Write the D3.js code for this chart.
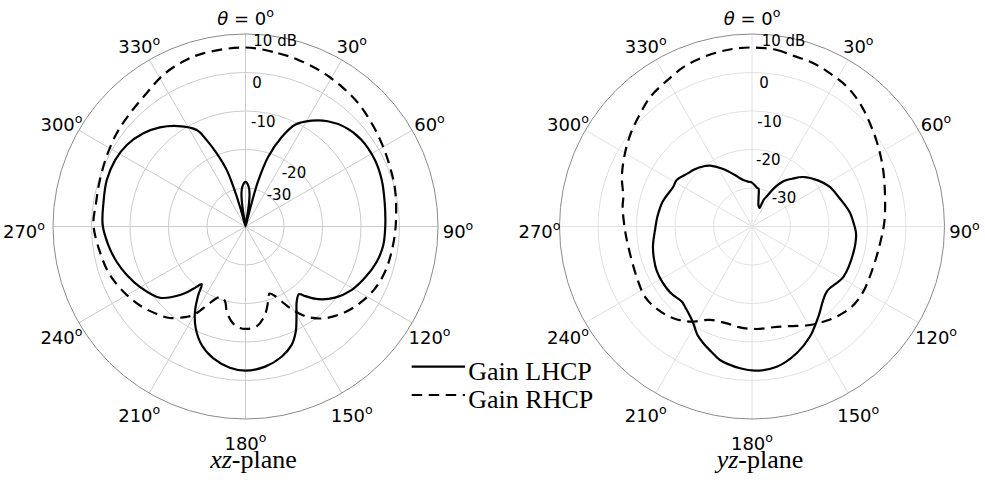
<!DOCTYPE html>
<html><head><meta charset="utf-8">
<script src="https://cdn.jsdelivr.net/npm/d3@7"></script>
<style>body{margin:0;background:#fff;} svg{display:block;}</style>
</head><body>
<svg id="chart" width="985" height="480"></svg>
<script>
// ---------------- data ----------------
const ringValues = [-30, -20, -10, 0];
const ringLabelValues = [-30, -20, -10, 0, 10];
const ringLabels = ["-30", "-20", "-10", "0", "10 dB"];
const thetaTicks = [0, 30, 60, 90, 120, 150, 180, 210, 240, 270, 300, 330];
const planeLabels = ["xz", "yz"];
const seriesNames = ["Gain LHCP", "Gain RHCP"];

// xz-plane, LHCP
const xzLhcpTheta = [0,4.5,7,9,10.5,14.5,15.5,18,22,26,32,38,45,53,63,71,80,90,98,105,113,121,128.5,135,139.4,141.7,145.7,150,154.5,158.7,164.5,172,180,186.3,193.7,200.3,206.1,210.7,214.6,217.2,219.9,223.7,230.2,240.3,247.8,254.7,262.3,270.6,279.3,288.5,297,304.5,312.4,319.2,326.2,333.2,335.8,338.5,341.6,343,344.5,349.5,351,353,355.5];
const xzLhcpGain  = [-28.4,-29.6,-31.4,-35,-40,-36,-28,-21,-15,-10.6,-7.6,-5.3,-3.5,-2.4,-2.2,-2.6,-3.3,-3.7,-3.9,-4.7,-6.2,-7.9,-10.3,-13.3,-16.2,-17.6,-16.4,-13.5,-9.7,-7.0,-4.9,-3.25,-2.55,-3.1,-4.75,-7.2,-10.6,-14.3,-18.4,-21.2,-18.9,-15.4,-11.1,-8.4,-6.7,-5.3,-4.05,-2.9,-2.6,-2.0,-2.0,-2.6,-4.1,-6.0,-8.6,-11.9,-15.4,-19.6,-24.5,-29.2,-35,-40,-35,-31.4,-29.6];

// xz-plane, RHCP
const xzRhcpTheta = [0,10.7,17.6,26.2,34.5,42.5,50.7,58.6,67.5,76.3,90,99.8,108,115.5,122.9,130.8,139,145,149.4,152.8,157,160.3,163,167.6,173.6,180,185,188.2,192.4,195.2,199.3,202,207.3,210.5,213.1,219.5,226,233,240,250.3,260.2,270.7,278.8,287.7,296.7,305.9,314.4,323.4,331.5,339.3,346.3];
const xzRhcpGain  = [6.5,5.8,5.4,4.8,4.1,3.4,2.35,1.45,0.6,0.0,-1.0,-1.5,-1.9,-2.7,-4.05,-5.9,-8.45,-11.2,-14.3,-17.1,-20.4,-21.5,-19.8,-16.5,-13.9,-13.4,-13.9,-15.0,-17.35,-19.8,-20.6,-19.9,-16.1,-13.3,-12.0,-9.2,-7.5,-5.8,-4.4,-2.6,-1.6,-0.5,-0.7,-0.3,0.4,1.3,2.0,3.1,4.8,5.8,6.3];

// yz-plane, LHCP
const yzLhcpTheta = [0,7,9.7,12.9,16.8,22,23.5,26.5,30,35,40,46,55,63,70,76,82,88,94,105,119,131,143.7,152.2,160.6,170,178.8,184.8,193.5,198,202.6,207,211.2,215,219.9,223.1,231,238,245,252,259,268,276,285.5,296.8,301.7,309.9,313.9,322.2,325.4,332.5,341.7,346,349.4,355];
const yzLhcpGain  = [-28.6,-29.8,-30.0,-32.4,-34.2,-34.8,-32.5,-31.0,-28.5,-25.6,-23.8,-21.5,-19.1,-17.3,-16.4,-15.4,-14.3,-13.6,-12.9,-12.8,-12.9,-14.25,-10.9,-7.7,-5.1,-3.0,-2.55,-3.05,-4.35,-5.8,-7.15,-8.6,-10.6,-11.8,-12.85,-13.3,-12.7,-12.6,-12.7,-13.2,-13.8,-14.8,-15.3,-15.9,-17.1,-17.0,-18.4,-18.8,-20.1,-20.8,-23.0,-25.9,-27.1,-27.7,-28.3];

// yz-plane, RHCP
const yzRhcpTheta = [0,8,14,20.6,27,34.1,41.2,48.8,57.7,66.7,77.4,88,97.5,108.3,120.4,128.8,136.8,143.2,149.5,159.1,168.1,177.4,186.8,194.6,204.2,213.1,220.6,228.3,236.7,246.5,260.7,268.4,278.7,283,291,300,308,315,322,330,337,344,352];
const yzRhcpGain  = [6.5,6.3,5.6,5.3,4.65,3.9,2.55,0.7,-1.2,-2.9,-4.6,-5.6,-6.45,-6.8,-6.5,-6.75,-7.9,-9.1,-10.3,-12.3,-13.25,-13.35,-13.6,-14.0,-13.4,-10.5,-8.6,-7.4,-6.75,-7.3,-7.45,-7.0,-6.0,-5.7,-3.8,-1.9,-0.2,1.2,2.8,3.9,5.1,5.8,6.3];

// ---------------- layout / style ----------------
const R = 192.5;
const panels = [
  { cx: 245.5, cy: 226.5, grid: "#cccccc", label: planeLabels[0], shift270: -9,
    lhcp: [xzLhcpTheta, xzLhcpGain], rhcp: [xzRhcpTheta, xzRhcpGain],
    ringOff: [[21.2,-26.5],[36.2,-48.2],[5.5,-99.2],[6.8,-138.2],[7.8,-180.5]] },
  { cx: 752, cy: 226.5, grid: "#e2e2e2", label: planeLabels[1], shift270: 0,
    lhcp: [yzLhcpTheta, yzLhcpGain], rhcp: [yzRhcpTheta, yzRhcpGain],
    ringOff: [[19.7,-23.8],[4,-61.5],[5.3,-99.8],[7.3,-138.2],[9.7,-180.5]] }
];
const sans = "'DejaVu Sans', sans-serif";
const serif = "'Liberation Serif', 'Times New Roman', serif";
const dash = "10.5,6.5";

const svg = d3.select("#chart");
const r = d3.scaleLinear().domain([-40, 10]).range([0, R]).clamp(true);
const rad = d => d * Math.PI / 180;

panels.forEach(p => {
  const g = svg.append("g").attr("transform", `translate(${p.cx},${p.cy})`);
  g.selectAll("circle.ring").data(ringValues).join("circle")
    .attr("r", d => r(d)).attr("fill", "none")
    .attr("stroke", p.grid).attr("stroke-width", 1);
  g.selectAll("line.spoke").data(thetaTicks).join("line")
    .attr("x1", 0).attr("y1", 0)
    .attr("x2", d => r(10) * Math.sin(rad(d)))
    .attr("y2", d => -r(10) * Math.cos(rad(d)))
    .attr("stroke", p.grid).attr("stroke-width", 1);
  g.append("circle").attr("r", r(10)).attr("fill", "none")
    .attr("stroke", "#8a8a8a").attr("stroke-width", 1);

  const line = d3.lineRadial()
    .angle(d => rad(d[0])).radius(d => r(d[1]))
    .curve(d3.curveCatmullRomClosed.alpha(0.5));
  const pts = s => s[0].map((t, i) => [t, s[1][i]]);
  g.append("path").attr("d", line(pts(p.rhcp)))
    .attr("fill", "none").attr("stroke", "#000").attr("stroke-width", 2.2)
    .attr("stroke-dasharray", dash);
  g.append("path").attr("d", line(pts(p.lhcp)))
    .attr("fill", "none").attr("stroke", "#000").attr("stroke-width", 2.2)
    .attr("stroke-linejoin", "round");

  ringLabelValues.forEach((v, i) => {
    g.append("text").attr("x", p.ringOff[i][0]).attr("y", p.ringOff[i][1])
      .attr("font-family", sans).attr("font-size", 15).attr("fill", "#000")
      .text(ringLabels[i]);
  });

  const LR = 212.5;
  thetaTicks.forEach(t => {
    const tx = g.append("text")
      .attr("x", LR * Math.sin(rad(t)) + (t === 270 ? p.shift270 : 0))
      .attr("y", -LR * Math.cos(rad(t)) + 11)
      .attr("text-anchor", "middle")
      .attr("font-family", sans).attr("font-size", 18).attr("fill", "#000");
    if (t === 0) {
      tx.append("tspan").attr("font-style", "italic").text("θ");
      tx.append("tspan").text(" = 0");
    } else {
      tx.append("tspan").text(String(t));
    }
    tx.append("tspan").attr("dy", -8).attr("font-size", 12.6).text("o");
  });

  const pl = svg.append("text").attr("x", p.cx + 8).attr("y", 468)
    .attr("text-anchor", "middle").attr("font-family", serif)
    .attr("font-size", 26).attr("fill", "#000");
  pl.append("tspan").attr("font-style", "italic").text(p.label);
  pl.append("tspan").text("-plane");
});

const leg = svg.append("g");
[0, 1].forEach(i => {
  const y = 366.7 + i * 28.3;
  leg.append("line").attr("x1", 411.7).attr("x2", 465).attr("y1", y).attr("y2", y)
    .attr("stroke", "#000").attr("stroke-width", 2.2)
    .attr("stroke-dasharray", i === 1 ? dash : null);
  leg.append("text").attr("x", 468.3).attr("y", y + 12.8)
    .attr("font-family", serif).attr("font-size", 26).attr("fill", "#000")
    .text(seriesNames[i]);
});
</script>
</body></html>
